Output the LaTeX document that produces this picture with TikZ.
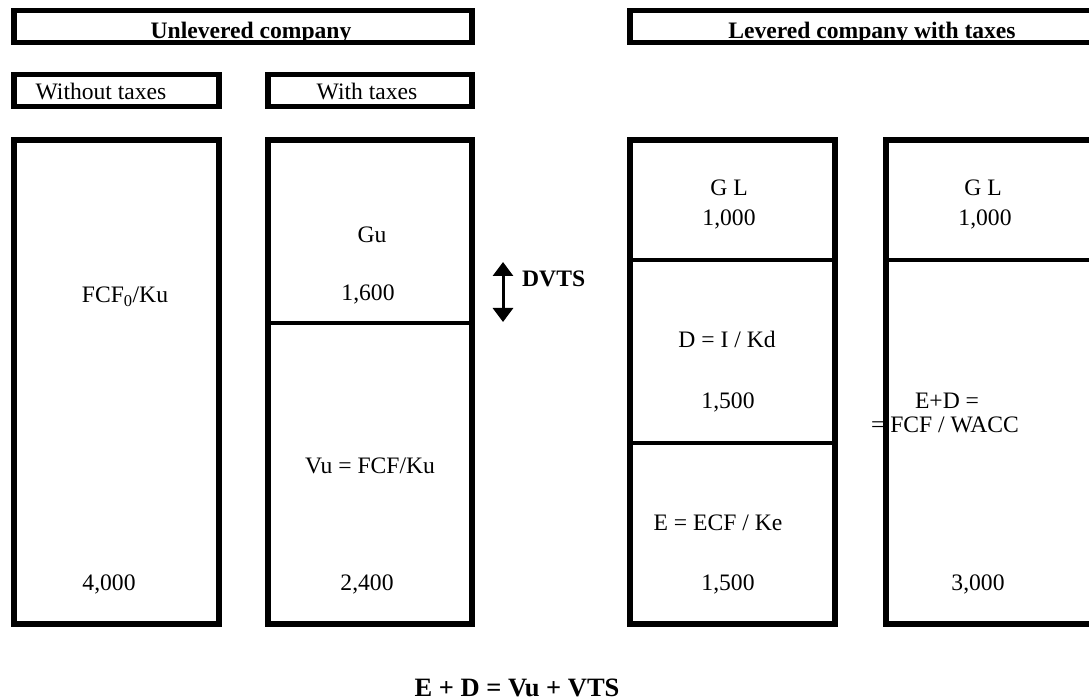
\documentclass[tikz,border=0pt]{standalone}
\usepackage{fontspec}
\setmainfont{Liberation Serif}
\usetikzlibrary{arrows.meta}

\begin{document}
\begin{tikzpicture}[x=1pt,y=-1pt,
  frame/.style={line width=5.5pt},
  split/.style={line width=4.5pt},
  lbl/.style={font=\fontsize{23.6}{26}\selectfont,inner sep=0pt,anchor=base},
  hdr/.style={font=\fontsize{23.6}{26}\selectfont\bfseries,inner sep=0pt,anchor=base}]
  \useasboundingbox (0,0) rectangle (1089,700);
  % Header boxes
  \draw[frame] (14,10.5) rectangle (472,42.5);
  \draw[frame] (630,10.5) rectangle (1100,42.5);
  \node[hdr] (unlev) at (251,38.5) {Unlevered company};
  \node[hdr] (lev) at (872,38.5) {Levered company with taxes};
  % Sub headers
  \draw[frame] (14,74.5) rectangle (219,106.5);
  \draw[frame] (268,74.5) rectangle (472,106.5);
  \node[lbl] (notax) at (101,100) {Without taxes};
  \node[lbl] (tax) at (367,100) {With taxes};
  % Unlevered, without taxes
  \draw[frame] (14,140) rectangle (219,624);
  \node[lbl] (fcfku) at (125,303) {FCF\textsubscript{0}/Ku};
  \node[lbl] (vnotax) at (109,590) {4,000};
  % Unlevered, with taxes
  \draw[frame] (268,140) rectangle (472,624);
  \draw[split] (268,323) -- (472,323);
  \node[lbl] (gu) at (372,243) {Gu};
  \node[lbl] (vgu) at (368,301) {1,600};
  \node[lbl] (vu) at (370,473) {Vu = FCF/Ku};
  \node[lbl] (vvu) at (367,590) {2,400};
  % DVTS arrow
  \coordinate (dvtsTop) at (503,262);
  \coordinate (dvtsBot) at (503,322);
  \draw[line width=3pt,{Triangle[width=20pt,length=14pt]}-{Triangle[width=20pt,length=14pt]}]
    (dvtsTop) -- (dvtsBot);
  \node[hdr,anchor=base west] (dvts) at (522,287) {DVTS};
  % Levered, split in E, D and GL
  \draw[frame] (630,140) rectangle (835,624);
  \draw[split] (630,260) -- (835,260);
  \draw[split] (630,443) -- (835,443);
  \node[lbl] (gl) at (729,196) {G L};
  \node[lbl] (vgl) at (729,226) {1,000};
  \node[lbl] (debt) at (727,348) {D = I / Kd};
  \node[lbl] (vdebt) at (728,408) {1,500};
  \node[lbl] (equity) at (718,530) {E = ECF / Ke};
  \node[lbl] (vequity) at (728,590) {1,500};
  % Levered, E+D and GL
  \draw[frame] (886,140) rectangle (1100,624);
  \draw[split] (886,260) -- (1100,260);
  \node[lbl] (gl2) at (983,196) {G L};
  \node[lbl] (vgl2) at (985,226) {1,000};
  \node[lbl] (ed) at (947,408) {E+D =};
  \node[lbl] (wacc) at (945,432) {= FCF / WACC};
  \node[lbl] (ved) at (978,590) {3,000};
  % Identity
  \node[hdr,font=\fontsize{26.5}{28}\selectfont\bfseries] (ident) at (517,696) {E + D = Vu + VTS};
\end{tikzpicture}
\end{document}
